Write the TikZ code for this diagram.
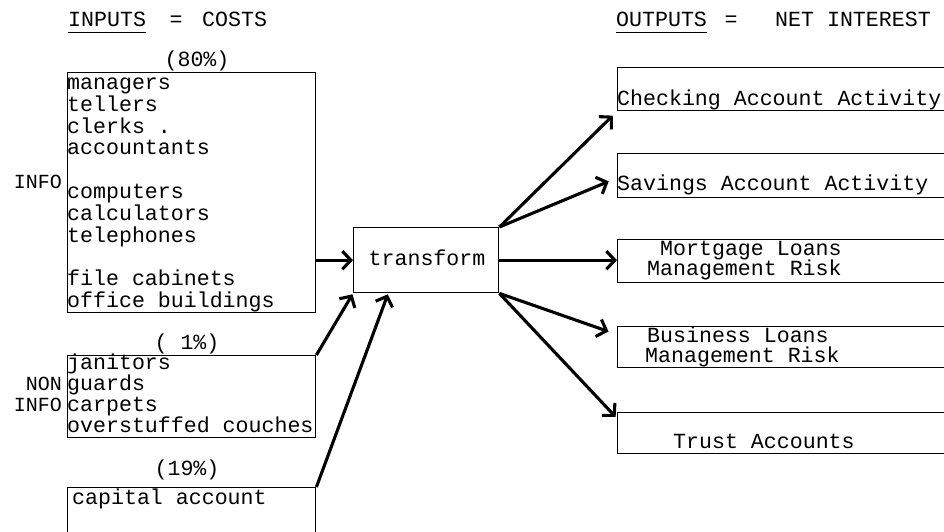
\documentclass[tikz,border=0pt]{standalone}
\usepackage{fontspec}
\setmainfont{Liberation Mono}
\usetikzlibrary{arrows.meta,calc}
\tikzset{
  box/.style={draw=black, line width=1.4pt, anchor=north west, inner sep=0pt},
  tfont/.style={inner sep=0pt, text height=12pt, text depth=3.5pt, font=\fontsize{21.6}{22}\selectfont},
  txt/.style={tfont, anchor=base west},
  txtc/.style={tfont, anchor=base},
  txte/.style={tfont, anchor=base east, font=\fontsize{20}{22}\selectfont},
  arr/.style={line width=3.1pt, -{Straight Barb[length=8.5pt,width=18pt]}}
}
\begin{document}
\begin{tikzpicture}[x=1pt,y=-1pt]
\useasboundingbox (0,0) rectangle (944,531);
\clip (0,0) rectangle (944,531);
% titles
\node[txt] (tin) at (68,26) {INPUTS};
\node[txtc] (teq1) at (176,26) {=};
\node[txt] (tcost) at (202,26) {COSTS};
\draw[line width=1.2pt] (tin.south west) ++(0,3) coordinate (u1a) -- (u1a -| tin.south east);
\node[txt] (tout) at (616,26) {OUTPUTS};
\node[txtc] (teq2) at (731,26) {=};
\node[txt] (tnet) at (775,26) {NET INTEREST};
\draw[line width=1.2pt] (tout.south west) ++(0,3) coordinate (u2a) -- (u2a -| tout.south east);
% box 1
\node[txtc] (p80) at (197,66) {(80\%)};
\node[box, minimum width=248pt, minimum height=240pt] (box1) at (67,72) {};
\node[txt] (l1) at (67,89) {managers};
\node[txt] (l2) at (67,111) {tellers};
\node[txt] (l3) at (67,133) {clerks .};
\node[txt] (l4) at (67,154.5) {accountants};
\node[txt] (l5) at (67,198) {computers};
\node[txt] (l6) at (67,220) {calculators};
\node[txt] (l7) at (67,242) {telephones};
\node[txt] (l8) at (67,285) {file cabinets};
\node[txt] (l9) at (67,307) {office buildings};
\node[txte] (info1) at (62,188) {INFO};
% box 2
\node[txtc] (p1) at (187,349) {( 1\%)};
\node[box, minimum width=248pt, minimum height=82pt] (box2) at (67,355) {};
\node[txt] (m1) at (67,369) {janitors};
\node[txt] (m2) at (67,390) {guards};
\node[txt] (m3) at (67,411) {carpets};
\node[txt] (m4) at (67,432) {overstuffed couches};
\node[txte] (non) at (62,390) {NON};
\node[txte] (info2) at (62,411) {INFO};
% box 3
\node[txtc] (p19) at (187,475) {(19\%)};
\node[box, minimum width=248pt, minimum height=70pt] (box3) at (67,487) {};
\node[txt] (cap) at (72,504) {capital account};
% transform
\node[box, minimum width=145pt, minimum height=65pt] (tr) at (353,227) {};
\node[txtc] (trt) at (427,265) {transform};
% outputs
\node[box, minimum width=340pt, minimum height=43pt] (oa) at (617,67) {};
\node[txt] (oat) at (617,105) {Checking Account Activity};
\node[box, minimum width=340pt, minimum height=44pt] (ob) at (617,153) {};
\node[txt] (obt) at (617,190) {Savings Account Activity};
\node[box, minimum width=340pt, minimum height=43pt] (oc) at (617,239) {};
\node[txt] (oct1) at (660,255) {Mortgage Loans};
\node[txt] (oct2) at (647,275) {Management Risk};
\node[box, minimum width=340pt, minimum height=41pt] (od) at (617,326) {};
\node[txt] (odt1) at (647,342) {Business Loans};
\node[txt] (odt2) at (645,362) {Management Risk};
\node[box, minimum width=340pt, minimum height=41pt] (oe) at (617,412) {};
\node[txt] (oet) at (673,448) {Trust Accounts};
% arrows in
\draw[arr] (tr.west -| box1.east) -- (tr.west);
\draw[arr, shorten >=1pt] (box2.north east) -- (tr.south west);
\draw[arr, shorten >=1pt] (box3.north east) -- ($(tr.south west)!0.24!(tr.south east)$);
% arrows out
\draw[arr, shorten >=6pt] (tr.north east) -- (oa.south west);
\draw[arr, shorten >=9pt] (tr.north east) -- ($(ob.north west)!0.55!(ob.south west)$);
\draw[arr] (tr.east) -- (tr.east -| oc.west);
\draw[arr, shorten >=9pt] (tr.south east) -- ($(od.north west)!0.2!(od.south west)$);
\draw[arr, shorten >=2pt] (tr.south east) -- ($(oe.north west)!0.15!(oe.south west)$);
\end{tikzpicture}
\end{document}
